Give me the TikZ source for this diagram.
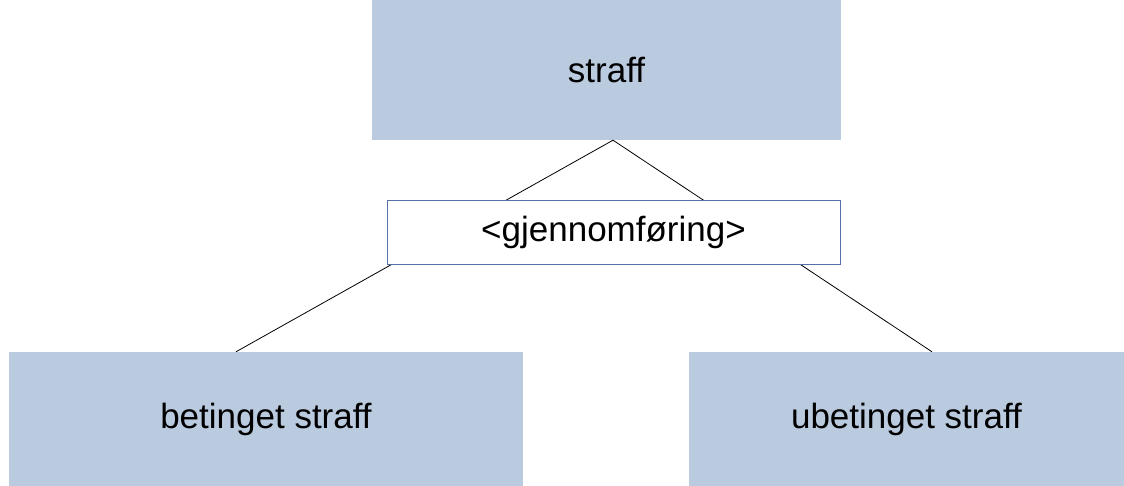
\documentclass[tikz,border=0pt]{standalone}
\usepackage{fontspec}
\setmainfont{Liberation Sans}
\usetikzlibrary{calc}
\definecolor{boxblue}{HTML}{BACADF}
\definecolor{edgeblue}{HTML}{5571A8}
\begin{document}
\begin{tikzpicture}[x=1pt,y=-1pt,
  bluebox/.style={fill=boxblue,draw=none,inner sep=0pt,font=\fontsize{35}{42}\selectfont},
  midbox/.style={fill=white,draw=edgeblue,line width=0.8pt,inner sep=0pt,font=\fontsize{35}{42}\selectfont},
  conn/.style={draw=black,line width=0.8pt}]
\useasboundingbox (0,0) rectangle (1124,486);
\node[bluebox,minimum width=469pt,minimum height=140pt] (top) at (606.5,70) {straff};
\node[bluebox,minimum width=514pt,minimum height=134pt] (left) at (266,419) {betinget straff};
\node[bluebox,minimum width=435pt,minimum height=134pt] (right) at (906.5,419) {ubetinget straff};
\coordinate (apex) at ($(top.south)+(6.5,0)$);
\coordinate (lend) at ($(left.north)+(-30,0)$);
\coordinate (rend) at ($(right.north)+(25.5,0)$);
\draw[conn] (lend) -- (apex) -- (rend);
\node[midbox,minimum width=453pt,minimum height=64pt] (mid) at (613.5,232) {<gjennomføring>};
\end{tikzpicture}
\end{document}
